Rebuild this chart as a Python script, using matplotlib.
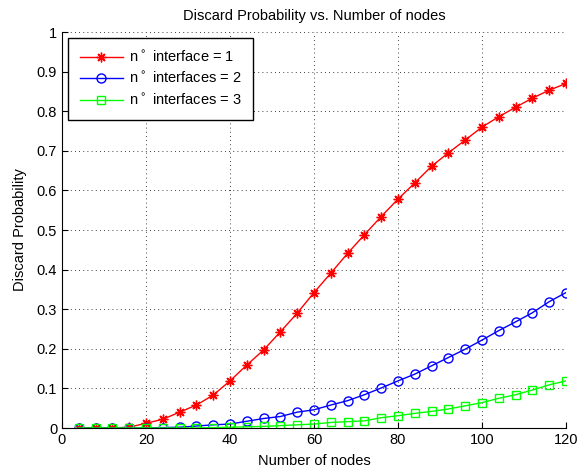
import matplotlib
matplotlib.use("Agg")
import matplotlib.pyplot as plt
import numpy as np

plt.rcParams['font.family'] = ['Liberation Sans', 'DejaVu Sans']

# number of nodes
nodes = list(range(4, 121, 4))

# discard probability
p_one = [0.0, 0.0, 0.0, 0.002, 0.012, 0.022, 0.040, 0.058, 0.083, 0.119,
         0.159, 0.197, 0.243, 0.290, 0.342, 0.391, 0.441, 0.488, 0.534, 0.578,
         0.619, 0.661, 0.695, 0.727, 0.760, 0.786, 0.810, 0.833, 0.853, 0.870]
p_two = [0.0, 0.0, 0.0, 0.0, 0.0, 0.001, 0.002, 0.005, 0.008, 0.010,
         0.017, 0.024, 0.029, 0.040, 0.046, 0.058, 0.069, 0.084, 0.101, 0.119,
         0.136, 0.157, 0.178, 0.199, 0.222, 0.246, 0.268, 0.291, 0.319, 0.342]
p_three = [0.0, 0.0, 0.0, 0.0, 0.0, 0.0, 0.0, 0.0, 0.001, 0.002,
           0.003, 0.004, 0.006, 0.008, 0.010, 0.014, 0.016, 0.018, 0.026, 0.031,
           0.037, 0.042, 0.048, 0.056, 0.064, 0.075, 0.084, 0.096, 0.109, 0.119]

labels = [r'n$^\circ$ interface = 1', r'n$^\circ$ interfaces = 2', r'n$^\circ$ interfaces = 3']

fig = plt.figure(figsize=(5.78, 4.69), dpi=100)
ax = fig.add_axes([62/578, 41/469, 504/578, 396/469])

# matlab style '*' marker: 8 armed asterisk
ax.plot(nodes, p_one, color='#ff0000', marker=(8, 2, 0), markersize=7, mew=1, lw=1, label=labels[0])
ax.plot(nodes, p_two, color='#0000ff', marker='o', markersize=6.5, mfc='none', lw=1, label=labels[1])
ax.plot(nodes, p_three, color='#00ff00', marker='s', markersize=6, mfc='none', lw=1, label=labels[2])

ax.set_xlim(0, 120)
ax.set_ylim(0, 1)
ax.set_xticks(np.arange(0, 121, 20))
ax.set_yticks(np.arange(0, 1.01, 0.1))
ax.set_yticklabels(['0', '0.1', '0.2', '0.3', '0.4', '0.5', '0.6', '0.7', '0.8', '0.9', '1'])
ax.grid(True, linestyle=(0, (1, 4)), color='black', linewidth=0.6)
ax.spines['top'].set_visible(False)
ax.spines['right'].set_visible(False)
ax.tick_params(direction='in', labelsize=10.5, length=4, top=False, right=False)

ax.set_title('Discard Probability vs. Number of nodes', fontsize=10.5, pad=9)
ax.set_xlabel('Number of nodes', fontsize=10.5, labelpad=5)
ax.set_ylabel('Discard Probability', fontsize=10.5, labelpad=7)

leg = ax.legend(loc='upper left', fontsize=10.5, fancybox=False, framealpha=1,
                edgecolor='black', borderaxespad=0.4, handlelength=3.0,
                handletextpad=0.4, borderpad=0.8, labelspacing=0.45)
leg.get_frame().set_linewidth(1)

fig.savefig('out.png', dpi=100, facecolor='white')
